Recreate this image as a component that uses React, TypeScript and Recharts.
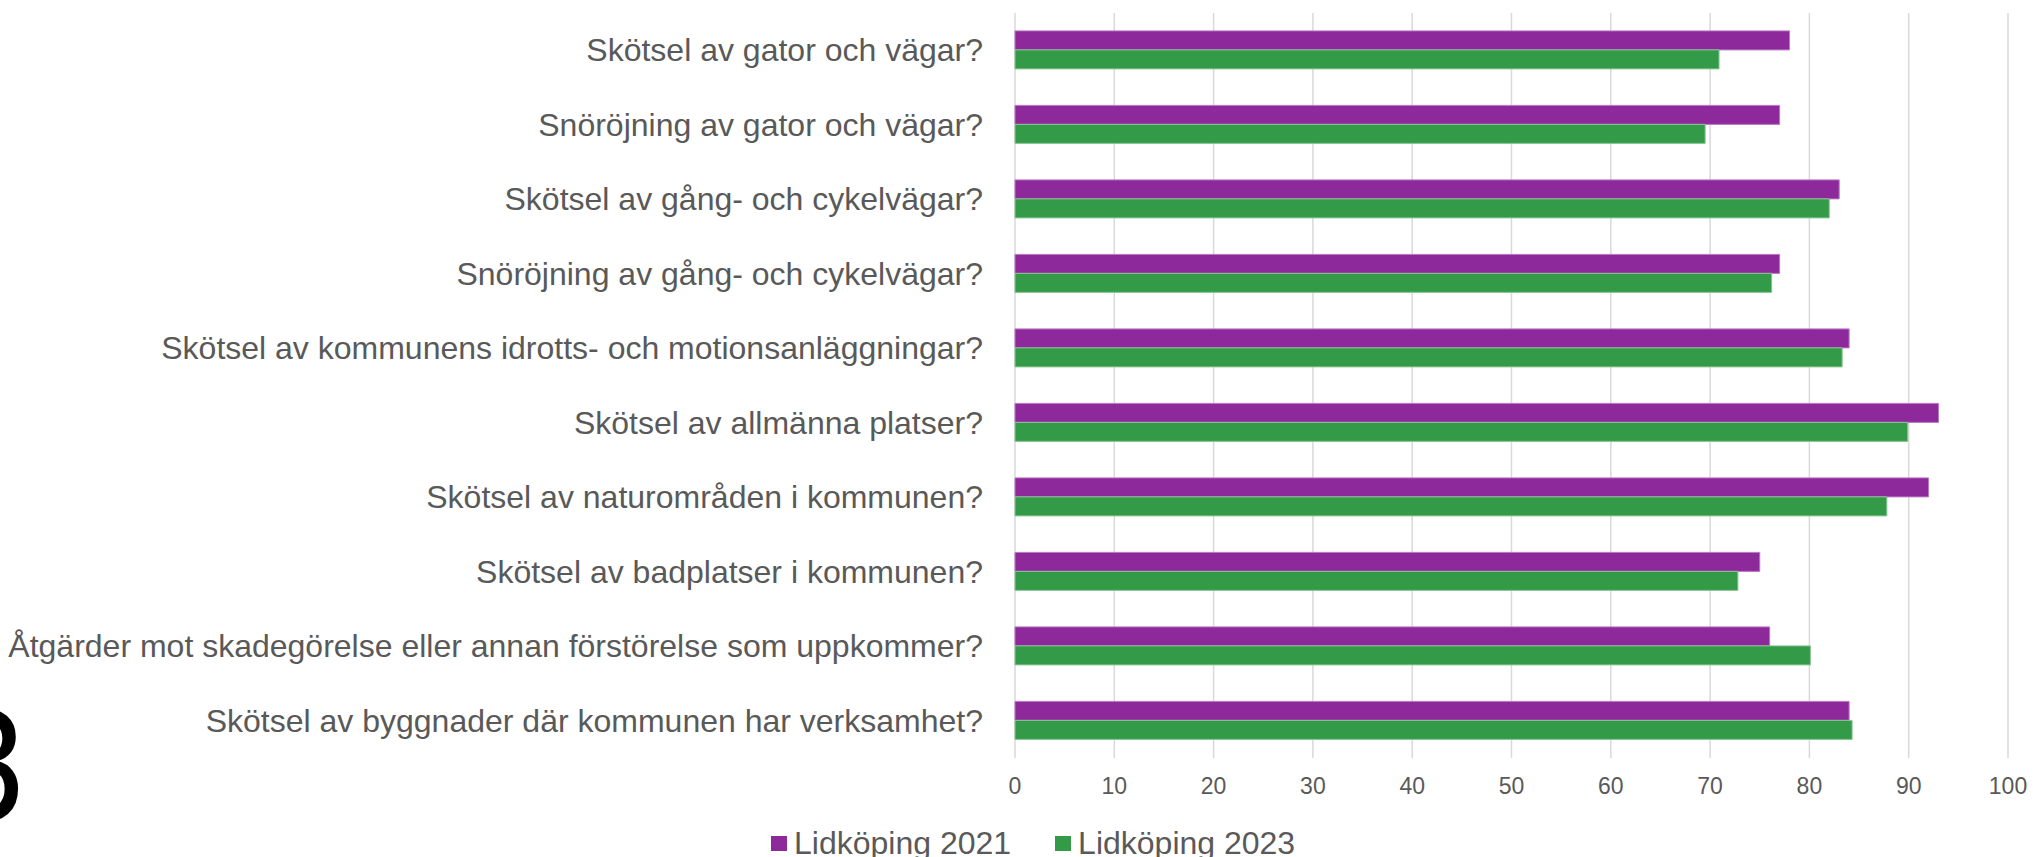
import { BarChart, Bar, XAxis, YAxis, CartesianGrid, Legend } from 'recharts'

const CATEGORIES = [
  'Skötsel av gator och vägar?',
  'Snöröjning av gator och vägar?',
  'Skötsel av gång- och cykelvägar?',
  'Snöröjning av gång- och cykelvägar?',
  'Skötsel av kommunens idrotts- och motionsanläggningar?',
  'Skötsel av allmänna platser?',
  'Skötsel av naturområden i kommunen?',
  'Skötsel av badplatser i kommunen?',
  'Åtgärder mot skadegörelse eller annan förstörelse som uppkommer?',
  'Skötsel av byggnader där kommunen har verksamhet?',
]
const LIDKOPING_2021 = [78, 77, 83, 77, 84, 93, 92, 75, 76, 84]
const LIDKOPING_2023 = [70.9, 69.5, 82.0, 76.2, 83.3, 89.9, 87.8, 72.8, 80.1, 84.3]
const X_TICKS = [0, 10, 20, 30, 40, 50, 60, 70, 80, 90, 100]

const SERIES = [
  { key: 'y2021', name: 'Lidköping 2021', color: '#8e299b', edge: '#b978c2' },
  { key: 'y2023', name: 'Lidköping 2023', color: '#339b47', edge: '#88c594' },
]

const FONT = '"Liberation Sans", Arial, sans-serif'
const TEXT = '#595959'

const data = CATEGORIES.map((name, i) => ({
  name,
  y2021: LIDKOPING_2021[i],
  y2023: LIDKOPING_2023[i],
}))

function CategoryTick({ x, y, payload }: any) {
  return (
    <text x={x} y={y} dy="0.35em" textAnchor="end" fill={TEXT} fontSize={32} fontFamily={FONT}>
      {payload.value}
    </text>
  )
}

function LegendContent() {
  return (
    <div style={{ display: 'flex', alignItems: 'center', fontFamily: FONT, fontSize: 32, color: TEXT, lineHeight: '28px', height: 28 }}>
      {SERIES.map((s, i) => (
        <div key={s.key} style={{ display: 'flex', alignItems: 'center', marginRight: i === 0 ? 44 : 0 }}>
          <span style={{ display: 'inline-block', width: 16, height: 15, background: s.color, marginRight: 7 }} />
          <span>{s.name}</span>
        </div>
      ))}
    </div>
  )
}

export default function App() {
  return (
    <div style={{ position: 'absolute', left: 0, top: 0, width: 2033, height: 857, background: '#fff', overflow: 'hidden' }}>
      <BarChart
        width={2033}
        height={857}
        data={data}
        layout="vertical"
        margin={{ top: 13, right: 25, bottom: 59, left: 0 }}
        barCategoryGap="24%"
        barGap={0}
      >
        <CartesianGrid horizontal={false} stroke="#d9d9d9" strokeWidth={1.5} />
        <XAxis
          type="number"
          domain={[0, 100]}
          ticks={X_TICKS}
          height={40}
          axisLine={false}
          tickLine={false}
          tickSize={8}
          tickMargin={12}
          tick={{ fontSize: 23, fill: TEXT, fontFamily: FONT }}
        />
        <YAxis
          type="category"
          dataKey="name"
          width={1015}
          axisLine={false}
          tickLine={false}
          tickSize={0}
          tickMargin={32}
          tick={<CategoryTick />}
          interval={0}
        />
        <Legend
          layout="horizontal"
          verticalAlign="middle"
          align="center"
          wrapperStyle={{ top: 829, left: 771, width: 700 }}
          content={<LegendContent />}
        />
        {SERIES.map((s) => (
          <Bar
            key={s.key}
            dataKey={s.key}
            name={s.name}
            fill={s.color}
            stroke={s.edge}
            strokeWidth={1}
            isAnimationActive={false}
          />
        ))}
      </BarChart>
      <div
        style={{
          position: 'absolute',
          left: -71,
          top: 693,
          width: 100,
          textAlign: 'right',
          fontFamily: '"Liberation Sans Narrow", "DejaVu Sans Condensed", sans-serif',
          fontSize: 152,
          lineHeight: '152px',
          color: '#000',
        }}
      >
        3
      </div>
    </div>
  )
}
